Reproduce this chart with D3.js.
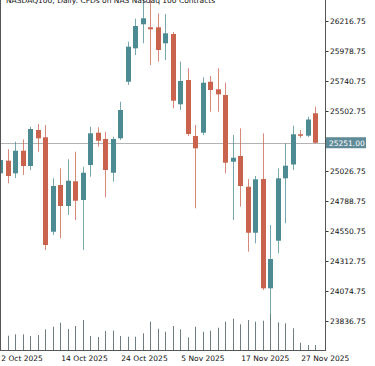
<!DOCTYPE html>
<html>
<head>
<meta charset="utf-8">
<script src="https://cdn.jsdelivr.net/npm/d3@7"></script>
<style>
	body { margin: 0; background: #fff; }
	svg { display: block; }
</style>
</head>
<body>
<div id="chart"></div>
<script>
// daily bars, 2 Oct 2025 .. 1 Dec 2025
var dates = ["2025-10-02", "2025-10-03", "2025-10-06", "2025-10-07", "2025-10-08", "2025-10-09", "2025-10-10",
	"2025-10-13", "2025-10-14", "2025-10-15", "2025-10-16", "2025-10-17", "2025-10-20", "2025-10-21",
	"2025-10-22", "2025-10-23", "2025-10-24", "2025-10-27", "2025-10-28", "2025-10-29", "2025-10-30",
	"2025-10-31", "2025-11-03", "2025-11-04", "2025-11-05", "2025-11-06", "2025-11-07", "2025-11-10",
	"2025-11-11", "2025-11-12", "2025-11-13", "2025-11-14", "2025-11-17", "2025-11-18", "2025-11-19",
	"2025-11-20", "2025-11-21", "2025-11-24", "2025-11-25", "2025-11-26", "2025-11-27", "2025-11-28",
	"2025-12-01"];

var open = [25008.5, 25108.5, 25008.5, 25187.7, 25066.5, 25352, 25294, 24545, 24915.7, 24749, 24945,
	24796.7, 25074, 25330.7, 25280.6, 25013, 25286, 25735, 26000, 26190.6, 26166.8, 26166.8, 26039.8,
	26113.6, 25556, 25748.7, 25304.4, 25330.7, 25735, 25675, 25629.7, 25100.5, 25145.8, 24902, 24537,
	24963, 24096, 24473.8, 24968.8, 25078.3, 25317.9, 25306.8, 25484.5];

var high = [25153.7, 25199, 25259, 25278, 25378, 25399.6, 25391.7, 24968.8, 25048, 25119.5, 25180,
	25060.8, 25378, 25373.5, 25338.5, 25298.8, 25576.5, 26052.5, 26236, 26407, 26399, 26277.8, 26272,
	26129.5, 25893.9, 25841.5, 25391.7, 25770, 25780.4, 25841.5, 25727, 25312, 25365.5, 24963, 24987,
	25325.8, 24598.4, 25048, 25246.5, 25386, 25352, 25457.5, 25536.9];

var low = [24971, 24929, 24971, 24995, 25034.7, 25180, 24400, 24519, 24492.8, 24677.7, 24638, 24400,
	24981.5, 25219.5, 24818, 24941.8, 25272.7, 25709, 25947, 26039.8, 25867.7, 25893.9, 25907, 25524,
	25510.7, 25304.4, 24730.8, 25312, 25497, 25497, 25008.5, 24638, 24743.5, 24386.5, 24453, 24082.7,
	23876.5, 24373.9, 24611.8, 25034.7, 25288.5, 25296.5, 25245];

var close = [25114, 24987, 25187.7, 25066.5, 25360, 25286, 24439.7, 24907.7, 24749, 24949.8, 24791,
	25013, 25325.8, 25267, 25034.7, 25280.6, 25510.7, 26012.8, 26177, 26238, 26151, 25986.7, 26119,
	25584.5, 25740.8, 25320, 25206.8, 25727, 25669.4, 25635, 25092.6, 25132, 24907.7, 24537, 24961,
	24096, 24328.6, 24968.8, 25068.8, 25317.9, 25306.8, 25435.3, 25251];

// tick volume
var volume = [150000, 143000, 157000, 157000, 140000, 150000, 207000, 233000, 273000, 210000, 240000,
	300000, 140000, 130000, 190000, 193000, 140000, 133000, 133000, 167000, 283000, 213000, 183000,
	240000, 207000, 127000, 233000, 183000, 193000, 223000, 283000, 313000, 257000, 300000, 283000,
	293000, 360000, 277000, 267000, 217000, 73000, 50000, 50000];

var priceTicks = [26216.75, 25978.75, 25740.75, 25502.75, 25026.75, 24788.75, 24550.75, 24312.75,
	24074.75, 23836.75];
var dateTicks = ["2025-10-02", "2025-10-14", "2025-10-24", "2025-11-05", "2025-11-17", "2025-11-27"];

var title = "NASDAQ100, Daily:  CFDs on NAS Nasdaq 100 Contracts";

var W = 375, H = 366;
var plotRight = 325, plotBottom = 350;
var upColor = "#4b8b91", downColor = "#c9634d";
var font = "DejaVu Sans";

var svg = d3.select("#chart")
	.append("svg")
	.attr("width", W)
	.attr("height", H)
	.style("font-family", font);

var x = d3.scalePoint()
	.domain(dates)
	.range([0.8, 315.8]);

var y = d3.scaleLinear()
	.domain([23836.75, 26216.75])
	.range([321, 21]);

var yVol = d3.scaleLinear()
	.domain([0, 360000])
	.range([plotBottom, 314]);

var bars = dates.map(function (d, i) {
	return { date: d, o: open[i], h: high[i], l: low[i], c: close[i], v: volume[i] };
});

svg.append("clipPath").attr("id", "plotclip")
	.append("rect").attr("x", 0).attr("y", -20).attr("width", plotRight).attr("height", plotBottom + 20);

var plot = svg.append("g").attr("clip-path", "url(#plotclip)");

// last price line
var last = close[close.length - 1];
plot.append("line")
	.attr("x1", 0).attr("x2", plotRight)
	.attr("y1", Math.round(y(last)) + 0.5).attr("y2", Math.round(y(last)) + 0.5)
	.attr("stroke", "#b3b3b3");

// volumes
plot.selectAll(".vol")
	.data(bars)
	.enter().append("line")
	.attr("class", "vol")
	.attr("x1", function (d) { return Math.floor(x(d.date)) + 0.5; })
	.attr("x2", function (d) { return Math.floor(x(d.date)) + 0.5; })
	.attr("y1", function (d) { return yVol(d.v); })
	.attr("y2", plotBottom)
	.attr("stroke", "#6f7d80")
	.attr("stroke-width", 1);

// candles
var candle = plot.selectAll(".candle")
	.data(bars)
	.enter().append("g")
	.attr("class", "candle");

candle.append("line")
	.attr("x1", function (d) { return Math.floor(x(d.date)) + 0.5; })
	.attr("x2", function (d) { return Math.floor(x(d.date)) + 0.5; })
	.attr("y1", function (d) { return y(d.h); })
	.attr("y2", function (d) { return y(d.l); })
	.attr("stroke", function (d) { return d.c >= d.o ? upColor : downColor; })
	.attr("stroke-opacity", 0.75);

candle.append("rect")
	.attr("x", function (d) { return Math.floor(x(d.date)) - 2; })
	.attr("width", 5)
	.attr("y", function (d) { return y(Math.max(d.o, d.c)); })
	.attr("height", function (d) { return Math.max(1.5, Math.abs(y(d.o) - y(d.c))); })
	.attr("fill", function (d) { return d.c >= d.o ? upColor : downColor; });

// title (cut by the top edge)
svg.append("text")
	.attr("x", 6).attr("y", 2.7)
	.style("font-size", "7.5px")
	.attr("fill", "#111")
	.text(title);

// right price axis
var yAxis = d3.axisRight(y)
	.tickValues(priceTicks)
	.tickSize(3)
	.tickPadding(1.5)
	.tickFormat(d3.format(".2f"));

var ga = svg.append("g")
	.attr("transform", "translate(" + (plotRight + 0.5) + ",0)")
	.call(yAxis);
ga.select(".domain").remove();
ga.selectAll("line").attr("stroke", "#333");
ga.selectAll("text")
	.style("font-family", font)
	.style("font-size", "7.5px")
	.attr("fill", "#111");

// frame
svg.append("line").attr("x1", 0.5).attr("x2", 0.5).attr("y1", 0).attr("y2", plotBottom).attr("stroke", "#555");
svg.append("line").attr("x1", plotRight + 0.5).attr("x2", plotRight + 0.5).attr("y1", 0).attr("y2", plotBottom + 0.5).attr("stroke", "#555");
svg.append("line").attr("x1", 0).attr("x2", plotRight + 1).attr("y1", plotBottom + 0.5).attr("y2", plotBottom + 0.5).attr("stroke", "#555");

// last price label
var ly = y(last);
svg.append("rect")
	.attr("x", plotRight + 1).attr("y", ly - 5.5)
	.attr("width", 40).attr("height", 11)
	.attr("fill", "#5f8b98");
svg.append("text")
	.attr("x", plotRight + 4).attr("y", ly + 2.8)
	.style("font-size", "7.5px")
	.attr("fill", "#fff")
	.text(d3.format(".2f")(last));

// time axis
var parse = d3.timeParse("%Y-%m-%d");
var fmt = d3.timeFormat("%-d %b %Y");
var xAxis = d3.axisBottom(x)
	.tickValues(dateTicks)
	.tickSize(0)
	.tickPadding(0)
	.tickFormat(function (d) { return fmt(parse(d)); });

var gx = svg.append("g")
	.attr("transform", "translate(0," + plotBottom + ")")
	.call(xAxis);
gx.select(".domain").remove();
gx.selectAll("text")
	.style("font-family", font)
	.style("font-size", "7.5px")
	.attr("fill", "#111")
	.attr("text-anchor", "start")
	.attr("dy", null)
	.attr("y", 10.7)
	.attr("x", 0);
</script>
</body>
</html>
